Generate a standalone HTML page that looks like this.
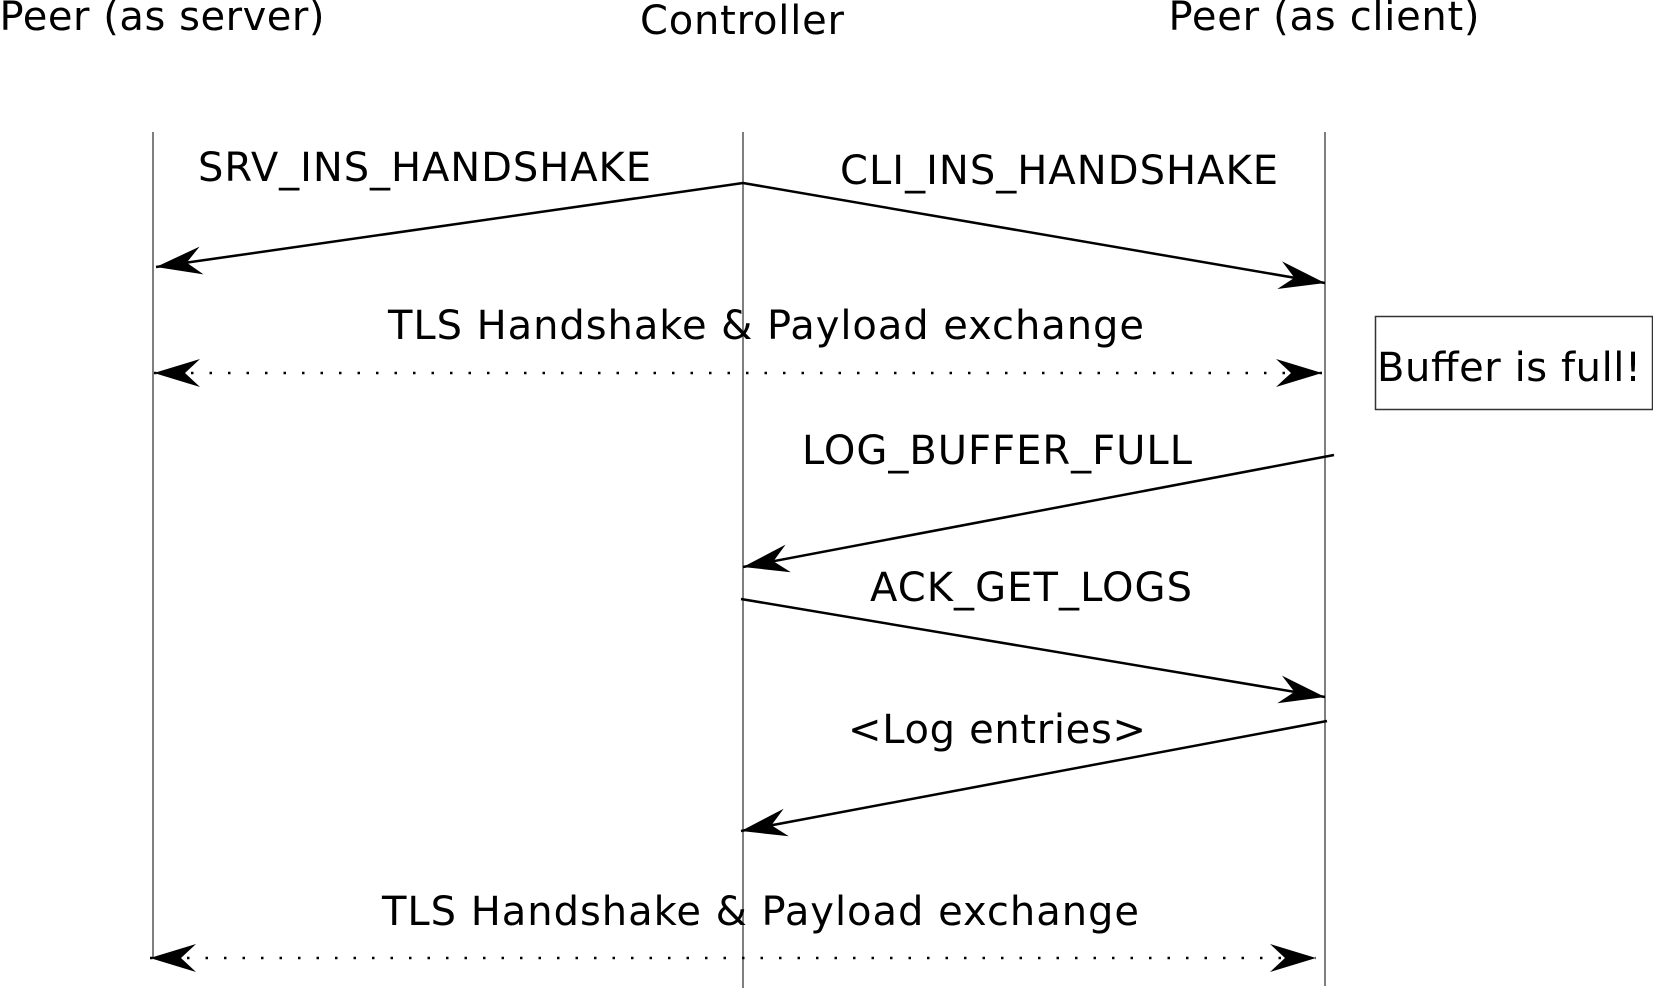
<!DOCTYPE html>
<html><head><style>body{margin:0;background:#fff}svg{display:block}text{font-family:"DejaVu Sans","Liberation Sans",sans-serif;font-size:40px;fill:#000}</style></head>
<body>
<svg width="1653" height="988" viewBox="0 0 1653 988" xmlns="http://www.w3.org/2000/svg">
<defs>
<marker id="a" markerUnits="userSpaceOnUse" markerWidth="60" markerHeight="40" refX="0" refY="0" viewBox="-50 -20 60 40" orient="auto">
<path d="M0,0 L-46,-14 L-31,0 L-46,14 z" fill="#000"/>
</marker>
<marker id="b" markerUnits="userSpaceOnUse" markerWidth="60" markerHeight="40" refX="0" refY="0" viewBox="-50 -20 60 40" orient="auto-start-reverse">
<path d="M0,0 L-46,-14 L-31,0 L-46,14 z" fill="#000"/>
</marker>
</defs>
<g stroke="#555" stroke-width="1.5">
<line x1="153" y1="132" x2="153" y2="958"/>
<line x1="743" y1="132" x2="743" y2="988"/>
<line x1="1325" y1="132" x2="1325" y2="986"/>
</g>
<text x="162" y="30" text-anchor="middle" textLength="325">Peer (as server)</text>
<text x="742" y="34" text-anchor="middle" textLength="204">Controller</text>
<text x="1324" y="30" text-anchor="middle" textLength="311">Peer (as client)</text>
<g stroke="#000" stroke-width="2.5" fill="none">
<line x1="743" y1="183" x2="156" y2="267" marker-end="url(#a)"/>
<line x1="743" y1="183" x2="1325" y2="283" marker-end="url(#a)"/>
<line x1="154" y1="373" x2="1322" y2="373" stroke-dasharray="2.5 16" marker-start="url(#b)" marker-end="url(#a)"/>
<line x1="1334" y1="455" x2="743" y2="567" marker-end="url(#a)"/>
<line x1="741" y1="599" x2="1325" y2="697" marker-end="url(#a)"/>
<line x1="1327" y1="721" x2="741" y2="831" marker-end="url(#a)"/>
<line x1="150" y1="958" x2="1316" y2="958" stroke-dasharray="2.5 16" marker-start="url(#b)" marker-end="url(#a)"/>
</g>
<text x="198" y="181" textLength="453">SRV_INS_HANDSHAKE</text>
<text x="840" y="184" textLength="438">CLI_INS_HANDSHAKE</text>
<text x="388" y="339" textLength="756">TLS Handshake &amp; Payload exchange</text>
<rect x="1375.5" y="316.5" width="277" height="93" fill="none" stroke="#333" stroke-width="1.5"/>
<text x="1377" y="381" textLength="264">Buffer is full!</text>
<text x="802" y="464" textLength="390">LOG_BUFFER_FULL</text>
<text x="870" y="601" textLength="322">ACK_GET_LOGS</text>
<text x="848" y="743" textLength="298">&lt;Log entries&gt;</text>
<text x="382" y="925" textLength="757">TLS Handshake &amp; Payload exchange</text>
</svg>
</body></html>
